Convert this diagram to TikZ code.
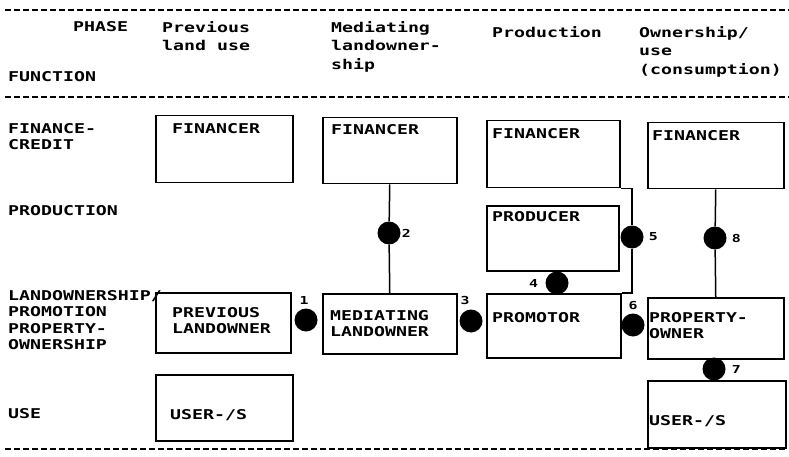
\documentclass[tikz,border=0pt]{standalone}
\usepackage{fontspec}
\newfontfamily\matrixfont{DejaVu Sans Mono}[FakeStretch=1.35]
\usetikzlibrary{positioning}

\begin{document}
\begin{tikzpicture}[x=1pt,y=-1pt,
	every node/.style={font=\matrixfont\bfseries\fontsize{13.5}{16.5}\selectfont},
	box/.style={draw,line width=1.5pt,anchor=north west,inner sep=0pt},
	txt/.style={anchor=north west,align=left,inner sep=0pt},
	hdr/.style={txt,font=\matrixfont\bfseries\fontsize{13.5}{18.5}\selectfont},
	dot/.style={circle,fill,minimum size=23pt,inner sep=0pt},
	num/.style={font=\matrixfont\bfseries\fontsize{11}{13}\selectfont,inner sep=1pt},
	link/.style={line width=1.5pt},
	rule/.style={line width=1.2pt,dash pattern=on 6pt off 3pt}]
	\useasboundingbox (0,0) rectangle (789,457);

	% dashed rules
	\draw[rule] (5,10) -- (789,10);
	\draw[rule] (5,97) -- (789,97);
	\draw[rule] (5,449) -- (786,449);

	% header
	\node[hdr] (phase) at (73,21) {PHASE};
	\node[hdr] (ph1) at (162,21) {Previous\\land use};
	\node[hdr] (ph2) at (331,21) {Mediating\\landowner-\\ship};
	\node[hdr] (ph3) at (492,26) {Production};
	\node[hdr] (ph4) at (639,26) {Ownership/\\use\\(consumption)};
	\node[hdr] (function) at (8,71) {FUNCTION};

	% functions
	\node[txt] (f1) at (8,123) {FINANCE-\\CREDIT};
	\node[txt] (f2) at (8,205) {PRODUCTION};
	\node[txt] (f3) at (8,290) {LANDOWNERSHIP/\\PROMOTION\\PROPERTY-\\OWNERSHIP};
	\node[txt] (f4) at (8,408) {USE};

	% boxes
	\node[box,minimum width=137,minimum height=67] (fin1) at (155,115) {};
	\node[box,minimum width=134,minimum height=66] (fin2) at (322,117) {};
	\node[box,minimum width=133,minimum height=67] (fin3) at (486,120) {};
	\node[box,minimum width=136,minimum height=66] (fin4) at (647,122) {};
	\node[box,minimum width=132,minimum height=65] (prod) at (486,205) {};
	\node[box,minimum width=135,minimum height=60] (prev) at (155,292) {};
	\node[box,minimum width=134,minimum height=60] (med) at (322,293) {};
	\node[box,minimum width=134,minimum height=64] (prom) at (486,293) {};
	\node[box,minimum width=136,minimum height=61] (prop) at (647,297) {};
	\node[box,minimum width=137,minimum height=66] (user1) at (155,374) {};
	\node[box,minimum width=138,minimum height=67] (user2) at (647,380) {};

	\node[txt,below right=8pt and 17pt of fin1.north west] (fin1t) {FINANCER};
	\node[txt,below right=7pt and 9pt of fin2.north west] (fin2t) {FINANCER};
	\node[txt,below right=8pt and 6pt of fin3.north west] (fin3t) {FINANCER};
	\node[txt,below right=8pt and 5pt of fin4.north west] (fin4t) {FINANCER};
	\node[txt,below right=6pt and 6pt of prod.north west] (prodt) {PRODUCER};
	\node[txt,below right=15pt and 17pt of prev.north west] (prevt) {PREVIOUS\\LANDOWNER};
	\node[txt,below right=17pt and 8pt of med.north west] (medt) {MEDIATING\\LANDOWNER};
	\node[txt,below right=19pt and 6pt of prom.north west] (promt) {PROMOTOR};
	\node[txt,below right=15pt and 2pt of prop.north west] (propt) {PROPERTY-\\OWNER};
	\node[txt,below right=35pt and 15pt of user1.north west] (user1t) {USER-/S};
	\node[txt,below right=35pt and 2pt of user2.north west] (user2t) {USER-/S};

	% relations
	\node[dot,label={[num,yshift=3pt,xshift=-2pt]above:1}] (d1) at (306,320) {};
	\node[dot,label={[num]right:2}] (d2) at (389,233) {};
	\node[dot,label={[num,xshift=-6pt,yshift=3pt]above:3}] (d3) at (471,321) {};
	\node[dot,label={[num,xshift=-6pt]left:4}] (d4) at (557,283) {};
	\node[dot,label={[num,xshift=4pt]right:5}] (d5) at (632,237) {};
	\node[dot,label={[num,yshift=2pt]above:6}] (d6) at (633,325) {};
	\node[dot,label={[num,xshift=5pt]right:7}] (d7) at (714,369) {};
	\node[dot,label={[num,xshift=4pt]right:8}] (d8) at (715,238) {};

	\draw[link] (fin2.south) -- (d2) -- (med.north);
	\draw[link] (fin4.south) -- (d8) -- (prop.north);
	\draw[link] (fin3.south east) -| (d5) |- (prom.north east);
\end{tikzpicture}
\end{document}
